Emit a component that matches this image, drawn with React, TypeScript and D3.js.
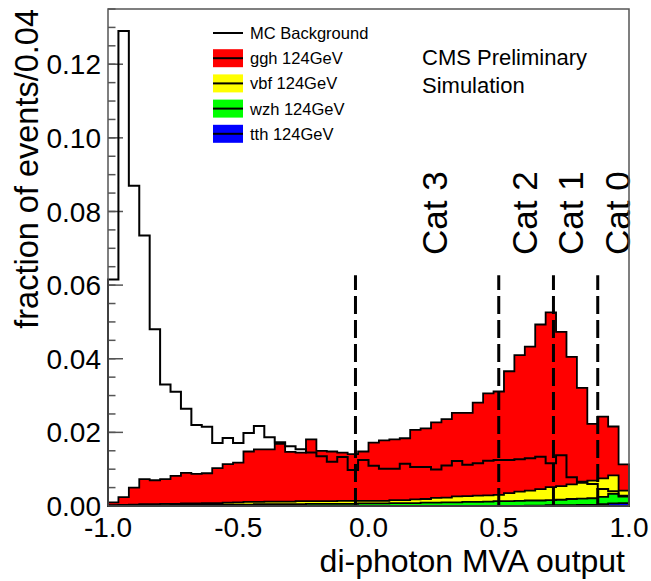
import React from 'react';
import * as d3 from 'd3';

// ---------- data ----------
const BIN_LOW = -1.0;
const BIN_WIDTH = 0.04;
const N_BINS = 50;

const background = [
  0.0615, 0.129, 0.087, 0.0735, 0.048, 0.033, 0.031, 0.0264, 0.022, 0.0215,
  0.0171, 0.0185, 0.0171, 0.0198, 0.0217, 0.0187, 0.0173, 0.0162, 0.0154, 0.0145,
  0.0135, 0.0120, 0.0133, 0.0098, 0.0125, 0.0109, 0.0101, 0.0101, 0.0115, 0.0106,
  0.0106, 0.0099, 0.0110, 0.0122, 0.0112, 0.0116, 0.0123, 0.0125, 0.0125, 0.0127,
  0.0130, 0.0134, 0.0116, 0.0138, 0.0078, 0.0066, 0.0060, 0.0046, 0.0040, 0.0026,
];

const ggh = [
  0.0008, 0.0021, 0.0046, 0.0068, 0.0065, 0.0067, 0.0076, 0.0083, 0.0080, 0.0081,
  0.0095, 0.0105, 0.0108, 0.0137, 0.0143, 0.0142, 0.0157, 0.0135, 0.0132, 0.0168,
  0.0137, 0.0135, 0.0131, 0.0127, 0.0134, 0.0158, 0.0164, 0.0165, 0.0168, 0.0189,
  0.0192, 0.0205, 0.0213, 0.0227, 0.0226, 0.0253, 0.0277, 0.0281, 0.0331, 0.0371,
  0.0391, 0.0447, 0.0475, 0.0419, 0.0346, 0.0258, 0.0154, 0.0168, 0.0133, 0.0071,
];

const vbf = [
  0.0001, 0.0002, 0.0002, 0.0003, 0.0003, 0.0004, 0.0003, 0.0004, 0.0004, 0.0005,
  0.0004, 0.0005, 0.0006, 0.0007, 0.0006, 0.0007, 0.0007, 0.0007, 0.0008, 0.0007,
  0.0007, 0.0007, 0.0008, 0.0008, 0.0007, 0.0007, 0.0007, 0.0008, 0.0008, 0.0010,
  0.0010, 0.0013, 0.0013, 0.0016, 0.0016, 0.0017, 0.0017, 0.0017, 0.0022, 0.0025,
  0.0027, 0.0031, 0.0035, 0.0037, 0.0040, 0.0043, 0.0048, 0.0050, 0.0050, 0.0014,
];

const wzh = [
  0.0001, 0.0001, 0.0002, 0.0002, 0.0002, 0.0002, 0.0003, 0.0003, 0.0003, 0.0003,
  0.0004, 0.0004, 0.0004, 0.0004, 0.0005, 0.0005, 0.0005, 0.0005, 0.0005, 0.0006,
  0.0006, 0.0006, 0.0006, 0.0006, 0.0007, 0.0007, 0.0007, 0.0008, 0.0008, 0.0008,
  0.0009, 0.0009, 0.0010, 0.0010, 0.0011, 0.0011, 0.0012, 0.0013, 0.0013, 0.0014,
  0.0014, 0.0014, 0.0014, 0.0015, 0.0017, 0.0017, 0.0018, 0.0020, 0.0026, 0.0020,
];

const tth = [
  0, 0, 0, 0, 0, 0, 0, 0, 0, 0,
  0, 0, 0, 0, 0, 0, 0, 0, 0, 0,
  0, 0, 0, 0, 0, 0, 0, 0, 0, 0,
  0, 0, 0, 0, 0, 0, 0, 0, 0, 0,
  0.0001, 0.0001, 0.0002, 0.0002, 0.0002, 0.0003, 0.0003, 0.0005, 0.0007, 0.0008,
];

const stackKeys = ['tth', 'wzh', 'vbf', 'ggh'];
const stackColors: Record<string, string> = { tth: '#0000ff', wzh: '#00ff00', vbf: '#ffff00', ggh: '#ff0000' };

const categoryCuts = [-0.05, 0.5, 0.71, 0.88];
const cutTop = 0.0627;
const categoryLabels = ['Cat 3', 'Cat 2', 'Cat 1', 'Cat 0'];
const categoryLabelX = [0.301, 0.647, 0.823, 1.003];

const yTicks = [0, 0.02, 0.04, 0.06, 0.08, 0.1, 0.12];
const yTickLabels = ['0.00', '0.02', '0.04', '0.06', '0.08', '0.10', '0.12'];
const xTicks = [-1, -0.5, 0, 0.5, 1];
const xTickLabels = ['-1.0', '-0.5', '0.0', '0.5', '1.0'];

const legendLabels = ['MC Background', 'ggh 124GeV', 'vbf 124GeV', 'wzh 124GeV', 'tth 124GeV'];
const legendColors = [null, '#ff0000', '#ffff00', '#00ff00', '#0000ff'];

// ---------- layout ----------
const W = 651;
const H = 581;
const FL = 108, FR = 629, FT = 9, FB = 506;
const FONT = '"Liberation Sans", Arial, Helvetica, sans-serif';

export default function App() {
  const x = d3.scaleLinear().domain([-1, 1]).range([FL, FR]);
  const y = d3.scaleLinear().domain([0, 0.135]).range([FB, FT]);

  const edges = d3.range(N_BINS + 1).map((i) => BIN_LOW + i * BIN_WIDTH);
  const rows = d3.range(N_BINS).map((i) => ({ tth: tth[i], wzh: wzh[i], vbf: vbf[i], ggh: ggh[i] }));
  const stacked = d3.stack<any>().keys(stackKeys)(rows);

  const stepPts = (vals: number[]) => [
    ...vals.map((v, i) => [edges[i], v] as [number, number]),
    [edges[N_BINS], vals[N_BINS - 1]] as [number, number],
  ];

  const area = d3
    .area<[number, number]>()
    .curve(d3.curveStepAfter)
    .x((d) => x(d[0]))
    .y0(y(0))
    .y1((d) => y(d[1]));

  const line = d3
    .line<[number, number]>()
    .curve(d3.curveStepAfter)
    .x((d) => x(d[0]))
    .y((d) => y(d[1]));

  const layers = stacked
    .map((s) => ({ key: s.key, cum: s.map((d) => d[1]) }))
    .reverse();

  const bgPts: [number, number][] = [[-1, 0], ...stepPts(background), [1, 0]];

  const yMinor = d3.range(0, 0.1351, 0.005);
  const xMinor = d3.range(-1, 1.0001, 0.1);

  return (
    <svg
      width={W}
      height={H}
      style={{ position: 'absolute', left: 0, top: 0, background: '#fff' }}
      fontFamily={FONT}
    >
      <rect x={0} y={0} width={W} height={H} fill="#fff" />

      {yMinor.map((t, i) => (
        <line key={'ym' + i} x1={FL} x2={FL + 7.5} y1={y(t)} y2={y(t)} stroke="#555" strokeWidth={1.5} />
      ))}
      {yTicks.map((t, i) => (
        <line key={'yM' + i} x1={FL} x2={FL + 15} y1={y(t)} y2={y(t)} stroke="#555" strokeWidth={1.5} />
      ))}
      {xMinor.map((t, i) => (
        <line key={'xm' + i} x1={x(t)} x2={x(t)} y1={FB} y2={FB - 7.5} stroke="#555" strokeWidth={1.5} />
      ))}
      {xTicks.map((t, i) => (
        <line key={'xM' + i} x1={x(t)} x2={x(t)} y1={FB} y2={FB - 15} stroke="#555" strokeWidth={1.5} />
      ))}

      {layers.map((l) => (
        <path
          key={l.key}
          d={area(stepPts(l.cum)) || ''}
          fill={stackColors[l.key]}
          stroke="#000"
          strokeWidth={1.8}
          strokeLinejoin="miter"
        />
      ))}

      <path d={line(bgPts) || ''} fill="none" stroke="#000" strokeWidth={2} />

      {categoryCuts.map((c, i) => (
        <line
          key={'cut' + i}
          x1={x(c)}
          x2={x(c)}
          y1={y(0)}
          y2={y(cutTop)}
          stroke="#000"
          strokeWidth={3}
          strokeDasharray="18,6"
        />
      ))}

      {categoryLabels.map((lab, i) => (
        <text
          key={'cat' + i}
          transform={`translate(${x(categoryLabelX[i])},255) rotate(-90)`}
          fontSize={35}
          fill="#000"
        >
          {lab}
        </text>
      ))}

      <rect x={FL} y={FT} width={FR - FL} height={FB - FT} fill="none" stroke="#555" strokeWidth={1.5} />

      {yTicks.map((t, i) => (
        <text key={'yl' + i} x={101} y={y(t)} dy="0.36em" textAnchor="end" fontSize={28} fill="#000">
          {yTickLabels[i]}
        </text>
      ))}
      {xTicks.map((t, i) => (
        <text key={'xl' + i} x={x(t)} y={537} textAnchor="middle" fontSize={28} fill="#000">
          {xTickLabels[i]}
        </text>
      ))}

      <text x={625} y={572} textAnchor="end" fontSize={32} fill="#000">
        di-photon MVA output
      </text>
      <text transform={`translate(38,${FT}) rotate(-90)`} textAnchor="end" fontSize={32.5} fill="#000">
        fraction of events/0.04
      </text>

      <text x={422} y={65} fontSize={22} fill="#000">CMS Preliminary</text>
      <text x={422} y={93} fontSize={22} fill="#000">Simulation</text>

      {legendLabels.map((lab, i) => {
        const cy = 33 + i * 25.2;
        const col = legendColors[i];
        return (
          <g key={'leg' + i}>
            {col && <rect x={213} y={cy - 9} width={30} height={18} fill={col} />}
            <line x1={213} x2={243} y1={cy} y2={cy} stroke="#000" strokeWidth={2} />
            <text x={250} y={cy} dy="0.36em" fontSize={16.5} fill="#000">
              {lab}
            </text>
          </g>
        );
      })}
    </svg>
  );
}
